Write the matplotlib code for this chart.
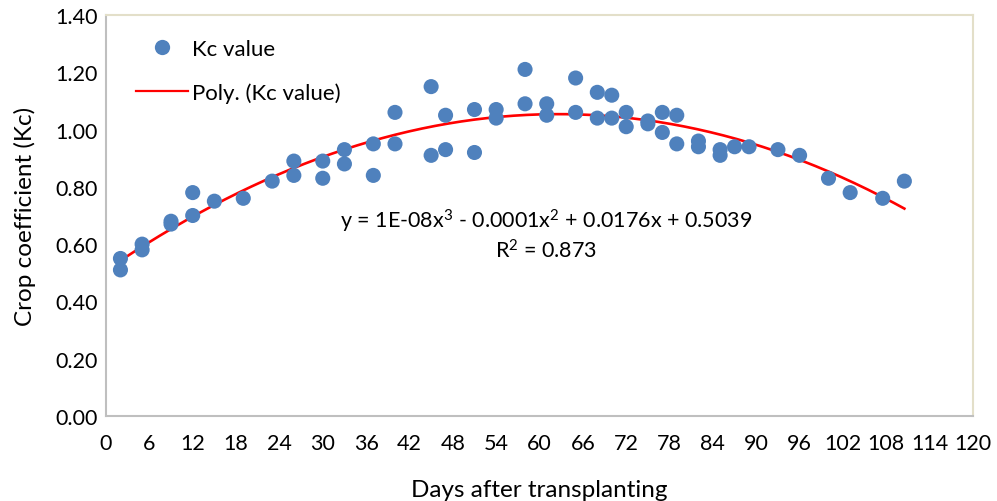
import numpy as np
import matplotlib
matplotlib.use("Agg")
import matplotlib.pyplot as plt
from matplotlib.lines import Line2D

plt.rcParams['font.family'] = ['Lato', 'DejaVu Sans']
plt.rcParams['mathtext.fontset'] = 'custom'
plt.rcParams['mathtext.rm'] = 'Lato'
plt.rcParams['mathtext.it'] = 'Lato'
plt.rcParams['mathtext.default'] = 'regular'

# Days after transplanting and measured crop coefficient
days = [2, 2, 5, 5, 9, 9, 12, 12, 15, 19, 23, 26, 26, 30, 30, 33, 33, 37, 37,
        40, 40, 45, 45, 47, 47, 51, 51, 54, 54, 58, 58, 61, 61, 65, 65, 68, 68,
        70, 70, 72, 72, 75, 75, 77, 77, 79, 79, 82, 82, 85, 85, 87, 89, 93, 96,
        100, 103, 107.5, 110.5]
kc = [0.55, 0.51, 0.60, 0.58, 0.68, 0.67, 0.78, 0.70, 0.75, 0.76, 0.82, 0.89, 0.84,
      0.89, 0.83, 0.93, 0.88, 0.95, 0.84, 1.06, 0.95, 1.15, 0.91, 1.05, 0.93,
      1.07, 0.92, 1.07, 1.04, 1.21, 1.09, 1.09, 1.05, 1.18, 1.06, 1.13, 1.04,
      1.12, 1.04, 1.06, 1.01, 1.03, 1.02, 1.06, 0.99, 1.05, 0.95, 0.96, 0.94,
      0.93, 0.91, 0.94, 0.94, 0.93, 0.91, 0.83, 0.78, 0.76, 0.82]

x_ticks = list(range(0, 121, 6))
y_ticks = [0.0, 0.2, 0.4, 0.6, 0.8, 1.0, 1.2, 1.4]

equation_text = r"y = 1E-08x$^{3}$ - 0.0001x$^{2}$ + 0.0176x + 0.5039"
r2_text = r"R$^{2}$ = 0.873"

fig = plt.figure(figsize=(9.97, 5.02), dpi=100)
ax = fig.add_axes([106 / 997, 1 - 417 / 502, (973 - 106) / 997, (417 - 16) / 502])

# Third-order polynomial trendline fitted to the measurements
coef = np.polyfit(days, kc, 3)
xs = np.linspace(min(days), max(days), 300)
ax.plot(xs, np.polyval(coef, xs), color='#FF0000', lw=1.9, zorder=2)

ax.scatter(days, kc, s=118, color='#4F81BD', edgecolors='none', zorder=3)

ax.set_xlim(0, 120)
ax.set_ylim(0, 1.4)
ax.set_xticks(x_ticks)
ax.set_xticklabels([str(t) for t in x_ticks])
ax.set_yticks(y_ticks)
ax.set_yticklabels([f"{t:.2f}" for t in y_ticks])
ax.tick_params(axis='both', length=0, labelsize=15.5, colors='#000000')
ax.tick_params(axis='x', pad=12)
ax.tick_params(axis='y', pad=6)

for side in ('left', 'bottom'):
    ax.spines[side].set_color('#BFBFBF')
    ax.spines[side].set_linewidth(1.5)
for side in ('top', 'right'):
    ax.spines[side].set_color('#E3DFC9')
    ax.spines[side].set_linewidth(1.5)

ax.set_xlabel("Days after transplanting", fontsize=17.5, labelpad=19)
ax.set_ylabel("Crop coefficient (Kc)", fontsize=17.5, labelpad=14)

ax.text(0.508, 0.487, equation_text, transform=ax.transAxes,
        ha='center', va='center', fontsize=15.5)
ax.text(0.508, 0.415, r2_text, transform=ax.transAxes,
        ha='center', va='center', fontsize=15.5)

handles = [
    Line2D([], [], marker='o', linestyle='none', markersize=11,
           markerfacecolor='#4F81BD', markeredgecolor='none'),
    Line2D([], [], color='#FF0000', lw=1.6),
]
ax.legend(handles, ["Kc value", "Poly. (Kc value)"], loc='upper left',
          bbox_to_anchor=(0.011, 0.99), frameon=False, fontsize=16,
          handlelength=2.35, handletextpad=0.2, labelspacing=1.05)

fig.savefig("out.png", dpi=100)
